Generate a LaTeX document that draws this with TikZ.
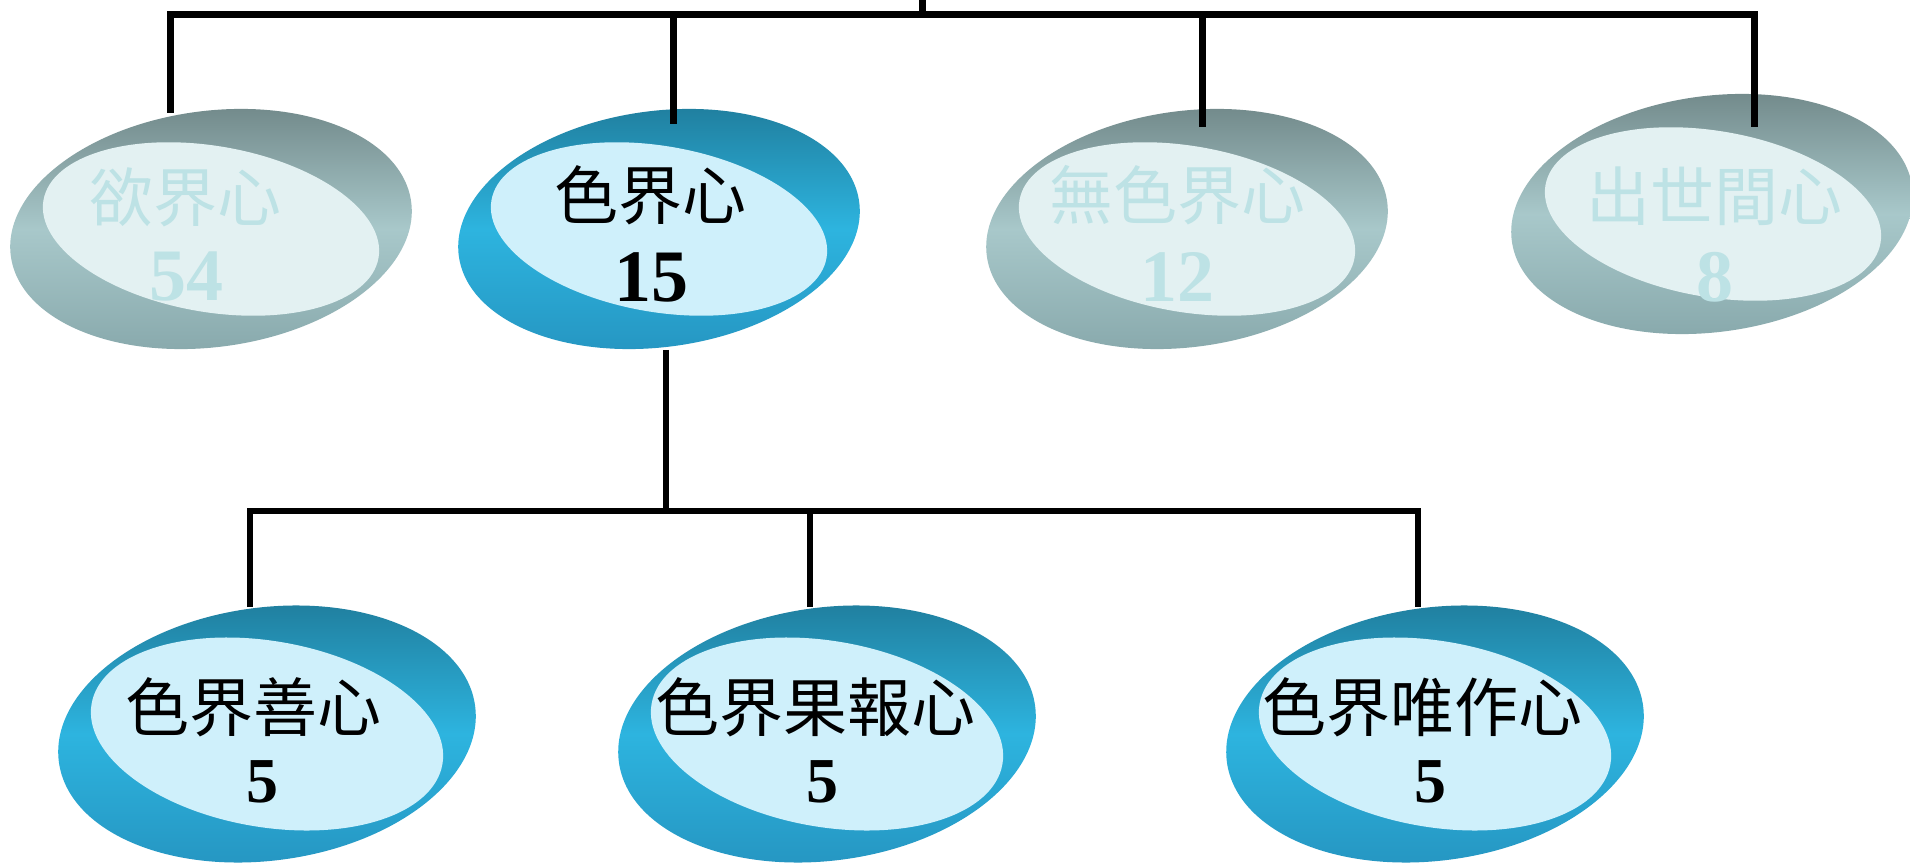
\documentclass[tikz,border=0pt]{standalone}
\usepackage{fontspec}
\setmainfont{Liberation Serif}
\newfontfamily\cjk{Noto Sans CJK TC}
\usetikzlibrary{shapes.geometric}
\definecolor{bdark}{HTML}{1F7B9A}
\definecolor{bmid}{HTML}{2DB4DF}
\definecolor{bbot}{HTML}{2594C0}
\definecolor{binner}{HTML}{CFF0FB}
\definecolor{gdark}{HTML}{6E8586}
\definecolor{gmid}{HTML}{A8C8CA}
\definecolor{gbot}{HTML}{86A7AA}
\definecolor{ginner}{HTML}{E3F1F2}
\definecolor{gtext}{HTML}{BDE2E5}
\begin{document}
\begin{tikzpicture}[x=1pt,y=1pt,
 outerT/.style={ellipse,inner sep=0,draw=none,minimum width=404pt,minimum height=236pt,rotate=7.75},
 innerT/.style={ellipse,inner sep=0,draw=none,minimum width=340pt,minimum height=166pt,rotate=-9.75},
 outerB/.style={ellipse,inner sep=0,draw=none,minimum width=420pt,minimum height=253pt,rotate=7.75},
 innerB/.style={ellipse,inner sep=0,draw=none,minimum width=356pt,minimum height=186pt,rotate=-9.75},
 bluering/.style={top color=bdark,bottom color=bbot,middle color=bmid},
 grayring/.style={top color=gdark,bottom color=gbot,middle color=gmid},
 bluecore/.style={fill=binner},
 graycore/.style={fill=ginner},
 cjklab/.style={inner sep=0,font=\cjk\fontsize{64}{70}\selectfont},
 numT/.style={inner sep=0,font=\bfseries\fontsize{74}{80}\selectfont},
 numB/.style={inner sep=0,font=\bfseries\fontsize{64}{70}\selectfont},
 conn/.style={line width=7pt,line join=miter,draw=black},
 connB/.style={line width=6pt,line join=miter,draw=black}
]
\fill[white] (0,0) rectangle (1910,863);
\useasboundingbox (0,0) rectangle (1910,863);

% top row
\node[outerT,grayring] (o1) at (211,634) {};
\node[innerT,graycore] (i1) at (211,634) {};
\node[outerT,bluering] (o2) at (659,634) {};
\node[innerT,bluecore] (i2) at (659,634) {};
\node[outerT,grayring] (o3) at (1187,634) {};
\node[innerT,graycore] (i3) at (1187,634) {};
\node[outerT,grayring] (o4) at (1712,649) {};
\node[innerT,graycore] (i4) at (1713,649) {};

% bottom row
\node[outerB,bluering] (o5) at (267,129) {};
\node[innerB,bluecore] (i5) at (267,129) {};
\node[outerB,bluering] (o6) at (827,129) {};
\node[innerB,bluecore] (i6) at (827,129) {};
\node[outerB,bluering] (o7) at (1435,129) {};
\node[innerB,bluecore] (i7) at (1435,129) {};

% labels
\node[cjklab,text=gtext] (l1) at (185,666) {欲界心};
\node[numT,text=gtext] (d1) at (186,586) {54};
\node[cjklab] (l2) at (650,668) {色界心};
\node[numT] (d2) at (651,586) {15};
\node[cjklab,text=gtext] (l3) at (1177.5,668) {無色界心};
\node[numT,text=gtext] (d3) at (1177,586) {12};
\node[cjklab,text=gtext] (l4) at (1714.5,666.5) {出世間心};
\node[numT,text=gtext] (d4) at (1715,585.5) {8};
\node[cjklab] (l5) at (253.5,155.5) {色界善心};
\node[numB] (d5) at (262,81.5) {5};
\node[cjklab] (l6) at (815,155.5) {色界果報心};
\node[numB] (d6) at (822,81.5) {5};
\node[cjklab] (l7) at (1422,155.5) {色界唯作心};
\node[numB] (d7) at (1430,81.5) {5};

% connector coordinates
\coordinate (hub) at (922,863);
\coordinate (t1) at (170,750);
\coordinate (t2) at (673,739);
\coordinate (t3) at (1202,736);
\coordinate (t4) at (1754,736);
\coordinate (b4) at (1754,848.5);
\coordinate (p2) at (666,513);
\coordinate (b7) at (1418,352);
\coordinate (t5) at (250,256);
\coordinate (t6) at (810,256);
\coordinate (t7) at (1418,256);

\draw[conn] (t1) |- (b4) -- (t4);
\draw[conn] (hub) -- (hub |- b4);
\draw[conn] (t2) -- (t2 |- b4);
\draw[conn] (t3) -- (t3 |- b4);
\draw[connB] (t5) |- (b7) -- (t7);
\draw[connB] (p2) -- (p2 |- b7);
\draw[connB] (t6) -- (t6 |- b7);
\end{tikzpicture}
\end{document}
